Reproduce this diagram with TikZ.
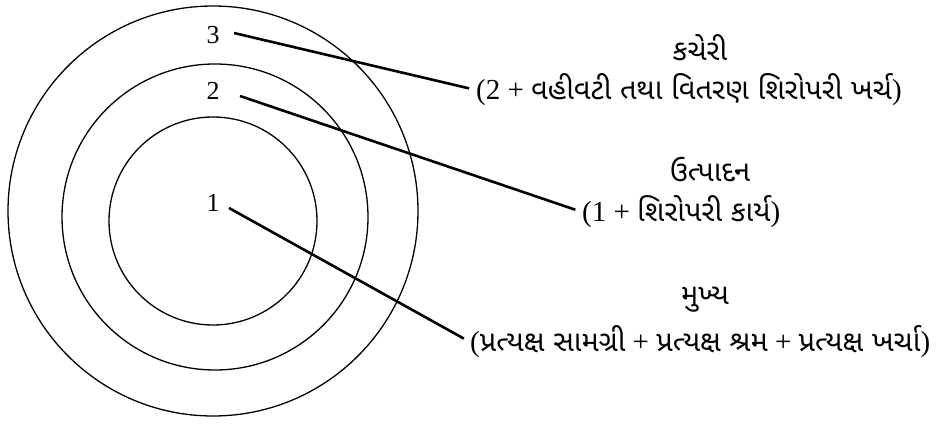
\documentclass[tikz,border=0pt]{standalone}
\usepackage{fontspec}
\setmainfont{Liberation Serif}
\newfontfamily\guj[Script=Gujarati]{Noto Sans Gujarati UI}
\begin{document}
\begin{tikzpicture}[x=1pt,y=-1pt,
  ring/.style={draw, line width=1.3pt},
  leader/.style={draw, line width=2.6pt, shorten >=7pt},
  num/.style={inner sep=0pt, font=\fontsize{26}{30}\selectfont},
  lbl/.style={inner sep=0pt, font=\fontsize{29}{34}\selectfont}]
\useasboundingbox (0,0) rectangle (938,425);
\draw[ring] (213,211) circle (205);
\draw[ring] (215,217) circle (153);
\draw[ring] (213,221) circle (104);
\node[num] (n3) at (213,35) {3};
\node[num] (n2) at (213,91) {2};
\node[num] (n1) at (213,203) {1};
\coordinate (s3) at (234,33);
\coordinate (s2) at (240,96);
\coordinate (s1) at (229,208);
\node[lbl] (t3) at (700,48) {\guj કચેરી};
\node[lbl, anchor=west] (d3) at (476,90) {(2 + {\guj વહીવટી તથા વિતરણ શિરોપરી ખર્ચ})};
\node[lbl] (t2) at (710,170) {\guj ઉત્પાદન};
\node[lbl, anchor=west] (d2) at (582,212) {(1 + {\guj શિરોપરી કાર્ય})};
\node[lbl] (t1) at (705,300) {\guj મુખ્ય};
\node[lbl, anchor=west] (d1) at (470,342) {({\guj પ્રત્યક્ષ સામગ્રી} + {\guj પ્રત્યક્ષ શ્રમ} + {\guj પ્રત્યક્ષ ખર્ચા})};
\draw[leader] (s3) -- (d3.west);
\draw[leader] (s2) -- (d2.west);
\draw[leader] (s1) -- (d1.west);
\end{tikzpicture}
\end{document}
